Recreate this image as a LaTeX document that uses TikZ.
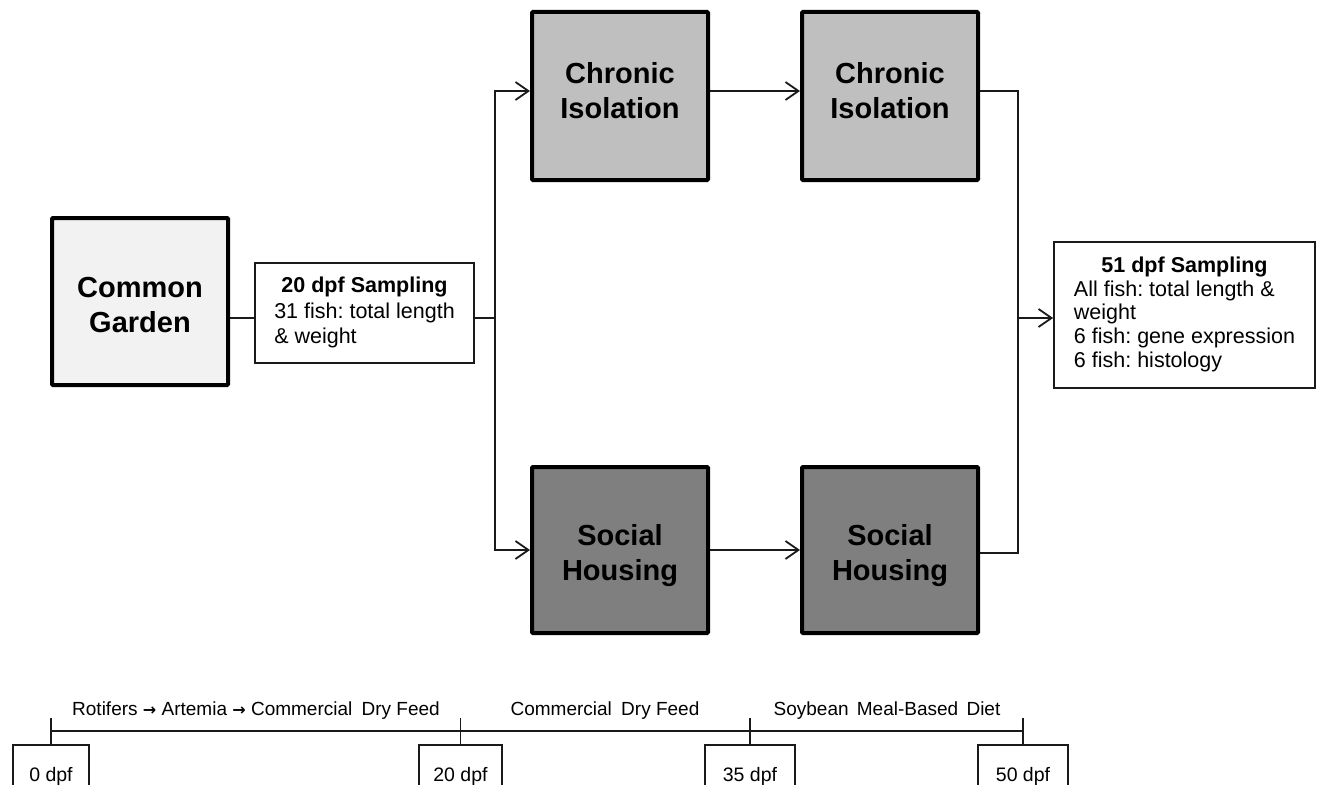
\documentclass[tikz,border=0pt]{standalone}
\usepackage{fontspec}
\setmainfont{Liberation Sans}
\newfontfamily\arrowfont{DejaVu Sans}
\usetikzlibrary{arrows.meta}
\definecolor{cgfill}{HTML}{F2F2F2}
\definecolor{cifill}{HTML}{BFBFBF}
\definecolor{shfill}{HTML}{7F7F7F}
\definecolor{ink}{HTML}{1A1A1A}
\newcommand\twolines[3]{\raisebox{#1}[\height][\depth]{\begin{tabular}{@{}c@{}}#2\\#3\end{tabular}}}
\newcommand\feedarrow{{\arrowfont\bfseries\fontsize{16}{16}\selectfont →}}
\frenchspacing
\begin{document}
\begin{tikzpicture}[x=1pt,y=-1pt,
  bigbox/.style={draw=black,line width=4pt,rounded corners=1pt,minimum width=176pt,
    minimum height=166pt,inner sep=0pt,
    font=\fontsize{29}{35}\selectfont\bfseries},
  infobox/.style={draw=ink,line width=1.8pt,inner sep=0pt},
  datebox/.style={draw=ink,line width=1.8pt,inner sep=0pt,anchor=north,
    minimum height=63pt,font=\fontsize{19.5}{23}\selectfont},
  conn/.style={draw=ink,line width=1.8pt,line join=miter},
  arr/.style={conn,-{Straight Barb[length=13pt,width=18pt]}},
  feed/.style={anchor=base,inner sep=0pt,font=\fontsize{19}{23}\selectfont}]
\clip (0,0) rectangle (1321,784);
% main boxes
\node[bigbox,fill=cgfill,minimum height=167pt] (cg) at (140,301.5) {\twolines{-6.5pt}{Common}{Garden}};
\node[bigbox,fill=cifill,minimum height=168pt] (ci1) at (620,96) {\twolines{2pt}{Chronic}{Isolation}};
\node[bigbox,fill=cifill,minimum height=168pt] (ci2) at (890,96) {\twolines{2pt}{Chronic}{Isolation}};
\node[bigbox,fill=shfill] (sh1) at (620,550) {\twolines{-5.5pt}{Social}{Housing}};
\node[bigbox,fill=shfill] (sh2) at (890,550) {\twolines{-5.5pt}{Social}{Housing}};
% sampling boxes
\node[infobox,minimum width=219pt,minimum height=100pt] (s20) at (364.5,313)
  {\fontsize{21.5}{25.5}\selectfont\begin{tabular}{@{}l@{}}\multicolumn{1}{@{}c@{}}{\bfseries 20 dpf Sampling}\\31 fish: total length\\\& weight\end{tabular}};
\node[infobox,minimum width=261pt,minimum height=146pt] (s51) at (1184.5,315)
  {\fontsize{21.5}{23.7}\selectfont\begin{tabular}{@{}l@{}}\multicolumn{1}{@{}c@{}}{\bfseries 51 dpf Sampling}\\All fish: total length \&\\weight\\6 fish: gene expression\\6 fish: histology\end{tabular}};
% connectors
\coordinate (j) at (495,318);
\coordinate (jt) at (495,91);
\coordinate (jb) at (495,550);
\coordinate (rt) at (1018,91);
\coordinate (rb) at (1018,553);
\coordinate (rm) at (1018,318);
\draw[conn] (cg.east |- j) -- (s20.west |- j);
\draw[conn] (s20.east |- j) -- (j);
\draw[arr] (j) -- (jt) -- (ci1.west |- jt);
\draw[arr] (j) -- (jb) -- (sh1.west |- jb);
\draw[arr] (ci1.east |- jt) -- (ci2.west |- jt);
\draw[arr] (sh1.east |- jb) -- (sh2.west |- jb);
\draw[conn] (ci2.east |- rt) -- (rt) -- (rb) -- (sh2.east |- rb);
\draw[arr] (rm) -- (s51.west |- rm);
% timeline
\node[datebox,minimum width=76pt] (d0) at (51,744) {0 dpf};
\node[datebox,minimum width=83pt] (d20) at (460.5,744) {20 dpf};
\node[datebox,minimum width=90pt] (d35) at (750,744) {35 dpf};
\node[datebox,minimum width=90pt] (d50) at (1023,744) {50 dpf};
\coordinate (tl) at (0,731);
\coordinate (tt) at (0,718);
\draw[conn] (d0.north |- tl) -- (d50.north |- tl);
\foreach \d in {d0,d20,d35,d50}{\draw[conn] (\d.north) -- (\d.north |- tt);}
\node[feed] (f1) at (256,715) {Rotifers \feedarrow{} Artemia \feedarrow{} Commercial\hspace{4pt} Dry Feed};
\node[feed] (f2) at (605,715) {Commercial\hspace{4pt} Dry Feed};
\node[feed] (f3) at (887,715) {Soybean\hspace{3pt} Meal-Based\hspace{3pt} Diet};
\end{tikzpicture}
\end{document}
